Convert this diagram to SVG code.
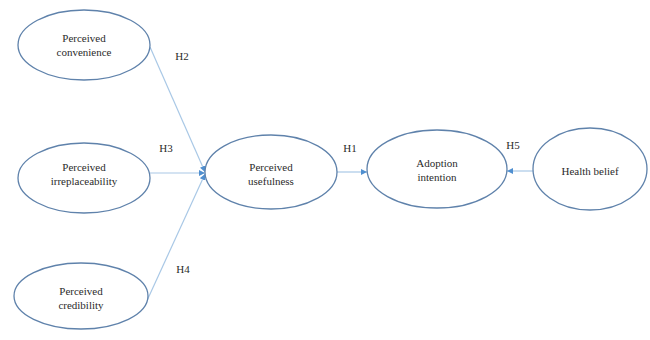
<svg xmlns="http://www.w3.org/2000/svg" width="650" height="340" viewBox="0 0 650 340">
<style>
.node ellipse{fill:#fff;stroke:#5f82ab;stroke-width:1.3}
.node text,.lbl{font-family:"Liberation Serif","Times New Roman",serif;font-size:11px;fill:#2b2b2b;text-anchor:middle}
.conn line{stroke:#a9c8e6;stroke-width:1.2}
</style>
<defs>
<marker id="arr" viewBox="0 0 6 6" refX="6" refY="3" markerWidth="6" markerHeight="6" orient="auto" markerUnits="userSpaceOnUse">
<path d="M0,0 L6,3 L0,6 z" fill="#4f8fd0"/>
</marker>
</defs>
<rect width="650" height="340" fill="#fff"/>
<g class="conn">
<line x1="150" y1="47" x2="205" y2="172" marker-end="url(#arr)"/>
<line x1="150" y1="173" x2="205" y2="173" marker-end="url(#arr)"/>
<line x1="145" y1="305" x2="205" y2="174" marker-end="url(#arr)"/>
<line x1="337" y1="172" x2="367" y2="172" marker-end="url(#arr)"/>
<line x1="533" y1="171" x2="507" y2="171" marker-end="url(#arr)"/>
</g>
<g id="n_convenience" class="node">
<ellipse cx="84" cy="45" rx="66" ry="35"/>
<text x="84" y="42">Perceived</text>
<text x="84" y="56">convenience</text>
</g>
<g id="n_irreplaceability" class="node">
<ellipse cx="84" cy="178" rx="66" ry="35"/>
<text x="84" y="171">Perceived</text>
<text x="84" y="185">irreplaceability</text>
</g>
<g id="n_credibility" class="node">
<ellipse cx="81" cy="296" rx="67" ry="33"/>
<text x="81" y="295">Perceived</text>
<text x="81" y="309">credibility</text>
</g>
<g id="n_usefulness" class="node">
<ellipse cx="271" cy="172" rx="66" ry="37"/>
<text x="271" y="171">Perceived</text>
<text x="271" y="185">usefulness</text>
</g>
<g id="n_adoption" class="node">
<ellipse cx="437" cy="169" rx="70" ry="39"/>
<text x="437" y="167">Adoption</text>
<text x="437" y="181">intention</text>
</g>
<g id="n_health" class="node">
<ellipse cx="590" cy="169" rx="57" ry="41"/>
<text x="590" y="175">Health belief</text>
</g>
<g id="labels">
<text class="lbl" x="182" y="60">H2</text>
<text class="lbl" x="166" y="152">H3</text>
<text class="lbl" x="350" y="152">H1</text>
<text class="lbl" x="183" y="273">H4</text>
<text class="lbl" x="513" y="149">H5</text>
</g>
</svg>
